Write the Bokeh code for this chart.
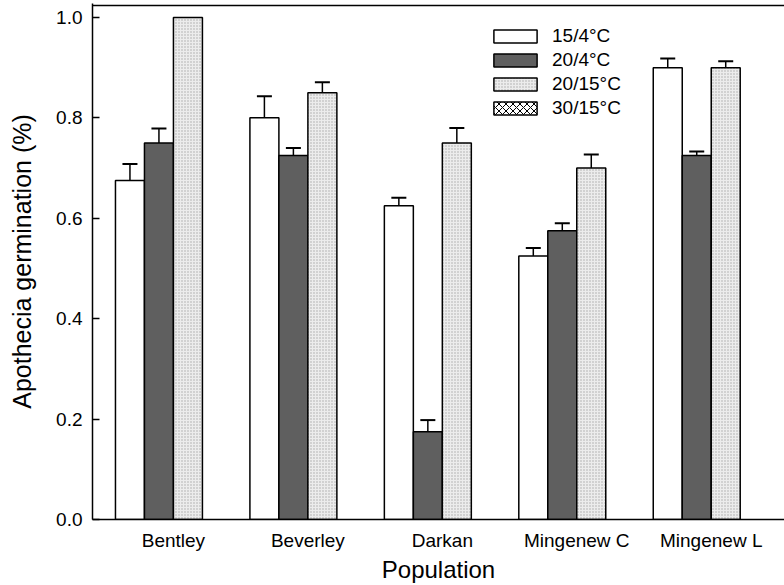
import numpy as np
from bokeh.plotting import figure
from bokeh.models import (ColumnDataSource, Legend, LegendItem, Whisker, TeeHead,
                          FixedTicker, Range1d, Span)
from bokeh.embed import file_html
from bokeh.resources import INLINE

# ---- data ----
populations = ["Bentley", "Beverley", "Darkan", "Mingenew C", "Mingenew L"]
treatments = ["15/4°C", "20/4°C", "20/15°C", "30/15°C"]
germ_15_4 = [0.675, 0.800, 0.625, 0.525, 0.900]
err_15_4 = [0.033, 0.043, 0.016, 0.016, 0.018]
germ_20_4 = [0.750, 0.725, 0.175, 0.575, 0.725]
err_20_4 = [0.029, 0.015, 0.023, 0.015, 0.008]
germ_20_15 = [1.000, 0.850, 0.750, 0.700, 0.900]
err_20_15 = [0.000, 0.021, 0.030, 0.027, 0.013]
germ_30_15 = [None, None, None, None, None]  # no bars for 30/15°C (legend only)
err_30_15 = [0.0, 0.0, 0.0, 0.0, 0.0]
y_ticks = [0.0, 0.2, 0.4, 0.6, 0.8, 1.0]

FONT = "Liberation Sans"
W = 0.2156  # bar width (in group units)
Y_MAX = 1.0238      # top frame line
Y_END = 1.0278      # a little room above it so the line is not clipped

p = figure(width=784, height=585, output_backend="svg", toolbar_location=None,
           x_range=Range1d(-0.602, 4.545), y_range=Range1d(0, Y_END),
           min_border_left=92, min_border_right=0, min_border_top=3,
           min_border_bottom=63)
p.outline_line_color = None
p.grid.visible = False
p.background_fill_color = "white"
p.border_fill_color = "white"

centers = list(range(len(populations)))
styles = [
    dict(fill_color="white"),
    dict(fill_color="#5f5f5f"),
    dict(fill_color="#ececec", hatch_pattern="dot", hatch_color="#a8a8a8",
         hatch_scale=3, hatch_weight=1),
    dict(fill_color="white", hatch_pattern="diagonal_cross", hatch_color="black",
         hatch_scale=7, hatch_weight=1),
]
series = [(germ_15_4, err_15_4), (germ_20_4, err_20_4), (germ_20_15, err_20_15),
          (germ_30_15, err_30_15)]
renderers = []
for k, (vals, errs) in enumerate(series):
    off = (k - 1.5) * W
    xs = [c + off for c in centers]
    tops = np.array(vals, dtype=float)
    src = ColumnDataSource(dict(x=xs, top=tops))
    r = p.vbar(x="x", top="top", width=W, source=src, line_color="black",
               line_width=1.5, **styles[k])
    renderers.append(r)
    ex = [x for x, v, e in zip(xs, vals, errs) if v is not None and e > 0]
    lo = [v for v, e in zip(vals, errs) if v is not None and e > 0]
    hi = [v + e for v, e in zip(vals, errs) if v is not None and e > 0]
    if ex:
        esrc = ColumnDataSource(dict(base=ex, lower=lo, upper=hi))
        wk = Whisker(base="base", lower="lower", upper="upper", source=esrc,
                     line_color="black", line_width=1.5, lower_head=None,
                     upper_head=TeeHead(size=15, line_color="black", line_width=2))
        p.add_layout(wk)

# top frame line
p.add_layout(Span(location=Y_MAX, dimension="width", line_color="black",
                  line_width=1.5))

# axes
xa = p.below[0]
xa.ticker = FixedTicker(ticks=centers)
xa.major_label_overrides = {i: n for i, n in enumerate(populations)}
xa.major_tick_line_color = None
xa.major_tick_out = 0
xa.major_tick_in = 0
xa.minor_tick_line_color = None
xa.axis_line_width = 1.5
xa.axis_line_color = "black"
xa.major_label_text_font = FONT
xa.major_label_text_font_size = "19px"
xa.major_label_text_color = "black"
xa.major_label_standoff = 10
xa.axis_label = "Population"
xa.axis_label_text_font = FONT
xa.axis_label_text_font_size = "24px"
xa.axis_label_text_font_style = "normal"
xa.axis_label_text_color = "black"
xa.axis_label_standoff = 2

ya = p.left[0]
ya.ticker = FixedTicker(ticks=y_ticks)
ya.major_label_overrides = {t: f"{t:.1f}" for t in y_ticks}
ya.major_tick_in = 7
ya.major_tick_out = 0
ya.major_tick_line_width = 1.5
ya.major_tick_line_color = "black"
ya.minor_tick_line_color = None
ya.axis_line_width = 1.5
ya.axis_line_color = "black"
ya.major_label_text_font = FONT
ya.major_label_text_font_size = "19px"
ya.major_label_text_color = "black"
ya.major_label_standoff = 10
ya.axis_label = "Apothecia germination (%)"
ya.axis_label_text_font = FONT
ya.axis_label_text_font_size = "25px"
ya.axis_label_text_font_style = "normal"
ya.axis_label_text_color = "black"
ya.axis_label_standoff = 17

legend = Legend(items=[LegendItem(label=t, renderers=[r], index=0)
                       for t, r in zip(treatments, renderers)],
                location=(396, 400), glyph_width=54, glyph_height=16,
                label_height=14, spacing=2, padding=0, margin=0,
                label_standoff=10, border_line_color=None,
                background_fill_alpha=0, label_text_font=FONT,
                label_text_font_size="19px", label_text_color="black")
p.add_layout(legend)

open("out.html", "w").write(file_html(p, INLINE))
